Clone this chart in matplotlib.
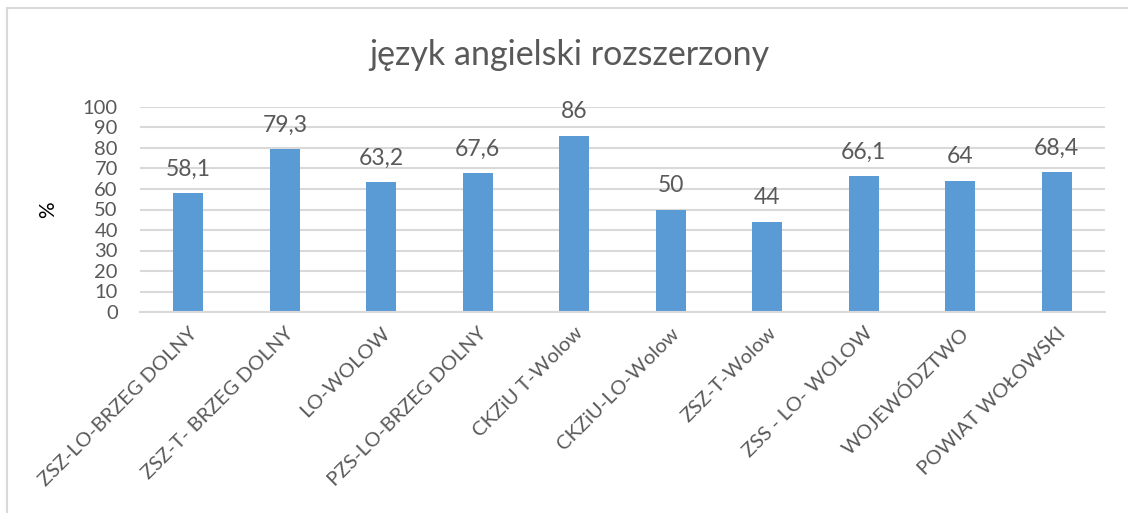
import numpy as np
import matplotlib.pyplot as plt
from matplotlib.lines import Line2D

plt.rcParams['font.family'] = ['Lato', 'DejaVu Sans']

categories = ['ZSZ-LO-BRZEG DOLNY', 'ZSZ-T- BRZEG DOLNY', 'LO-WOLOW',
              'PZS-LO-BRZEG DOLNY', 'CKZiU T-Wolow', 'CKZiU-LO-Wolow',
              'ZSZ-T-Wolow', 'ZSS - LO- WOLOW', 'WOJEWÓDZTWO', 'POWIAT WOŁOWSKI']
values = [58.1, 79.3, 63.2, 67.6, 86, 50, 44, 66.1, 64, 68.4]
yticks = [0, 10, 20, 30, 40, 50, 60, 70, 80, 90, 100]

text_color = '#595959'
grid_color = '#D9D9D9'
bar_color = '#5B9BD5'

fig = plt.figure(figsize=(11.28, 5.13), dpi=100)
ax = fig.add_axes([140 / 1128, 1 - 312 / 513, 965 / 1128, 205 / 513])

x = np.arange(len(categories))
ax.bar(x, values, width=0.31, color=bar_color, zorder=2)

for xi, v in zip(x, values):
    lbl = ('%g' % v).replace('.', ',')
    ax.text(xi, v + 6.5, lbl, ha='center', va='bottom', fontsize=16.5, color=text_color)

ax.set_xlim(-0.5, len(categories) - 0.5)
ax.set_ylim(0, 100)
ax.set_yticks(yticks)
ax.set_yticklabels([str(t) for t in yticks], fontsize=14.5, color=text_color)
ax.set_xticks(x)
ax.set_xticklabels(categories, rotation=45, ha='right', rotation_mode='anchor',
                   fontsize=14.5, color=text_color)
ax.tick_params(axis='both', length=0)
ax.tick_params(axis='x', pad=9)
ax.tick_params(axis='y', pad=16)
ax.yaxis.grid(True, color=grid_color, linewidth=1.5, zorder=0)
for s in ['top', 'right', 'left']:
    ax.spines[s].set_visible(False)
ax.spines['bottom'].set_color(grid_color)
ax.spines['bottom'].set_linewidth(1.5)
ax.set_axisbelow(True)

ax.set_ylabel('%', fontsize=15, color='black', labelpad=18)

fig.text(0.505, 1 - 55 / 513, 'język angielski rozszerzony', ha='center', va='center',
         fontsize=24.5, color=text_color)

# chart frame (cropped at right and bottom)
fig.add_artist(Line2D([7 / 1128, 1], [1 - 8 / 513, 1 - 8 / 513], color=grid_color,
                      linewidth=1.5, transform=fig.transFigure))
fig.add_artist(Line2D([7 / 1128, 7 / 1128], [0, 1 - 8 / 513], color=grid_color,
                      linewidth=1.5, transform=fig.transFigure))

fig.savefig('out.png', dpi=100, facecolor='white')
